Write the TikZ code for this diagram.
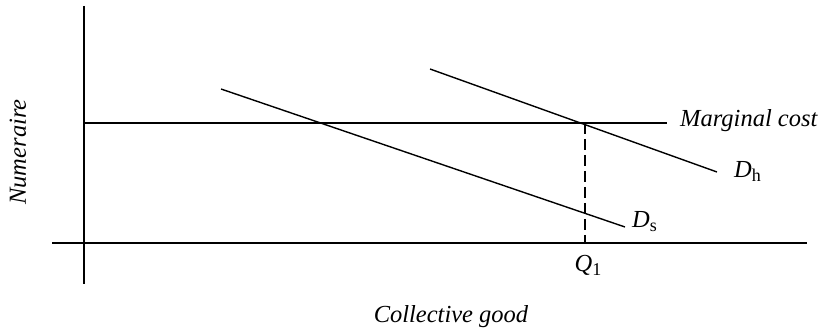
\documentclass[tikz,border=0pt]{standalone}
\usepackage{fontspec}
\setmainfont{Liberation Serif}
\usetikzlibrary{positioning}
\tikzset{curve/.style={line width=1.4pt}, lbl/.style={font=\fontsize{24.5}{28}\selectfont, inner sep=0pt}}
\newcommand{\lowsub}[1]{\raisebox{-0.3ex}{\fontsize{18}{20}\selectfont #1}}

\begin{document}
\begin{tikzpicture}[x=1pt, y=-1pt]
        \useasboundingbox (0,0) rectangle (822,331);
        \coordinate (ytop) at (84,6);
        \coordinate (ybot) at (84,284);
        \coordinate (xleft) at (52,243);
        \coordinate (xright) at (807,243);
        \coordinate (mcleft) at (84,123);
        \coordinate (mcright) at (667,123);
        \coordinate (dsstart) at (221,89);
        \coordinate (dsend) at (625,227);
        \coordinate (dhstart) at (430,69);
        \coordinate (dhend) at (717,172);
        \coordinate (qtop) at (585,123);
        \coordinate (qbot) at (585,243);

        \draw[curve] (ytop) -- (ybot);
        \draw[curve] (xleft) -- (xright);
        \draw[curve] (mcleft) -- (mcright);
        \draw[curve] (dsstart) -- (dsend);
        \draw[curve] (dhstart) -- (dhend);
        \draw[curve, dash pattern=on 11pt off 5pt] (qtop) -- (qbot);

        \node[lbl, anchor=base west] (mc) at (680,127) {\textit{Marginal cost}};
        \node[lbl, anchor=base west] (dh) at (734,178) {\textit{D}\lowsub{h}};
        \node[lbl, anchor=base west] (ds) at (632,228) {\textit{D}\lowsub{s}};
        \node[lbl, anchor=base] (q1) at (588,272) {\textit{Q}\lowsub{1}};
        \node[lbl, anchor=base] (xlabel) at (451,322) {\textit{Collective good}};
        \node[lbl, rotate=90] (ylabel) at (18,152) {\textit{Numeraire}};
    \end{tikzpicture}
\end{document}
